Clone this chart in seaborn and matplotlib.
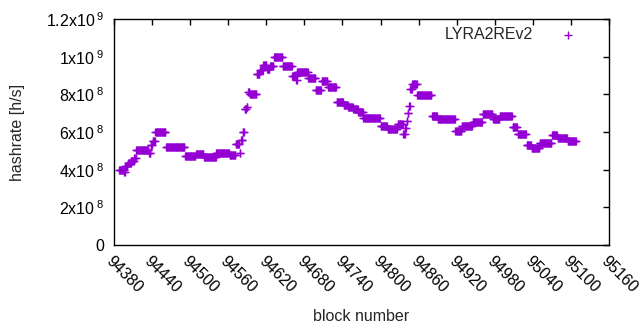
import numpy as np
import pandas as pd
import matplotlib
matplotlib.use('Agg')
import matplotlib.pyplot as plt
import seaborn as sns

# Hashrate plateaus: first block, last block, value (x1e8 h/s)
run_start = [94388, 94396, 94398, 94402, 94407, 94412, 94415, 94435, 94438, 94441,
             94445, 94462, 94492, 94509, 94522, 94541, 94562, 94572, 94578, 94580,
             94583, 94586, 94589, 94591, 94594, 94605, 94610, 94615, 94621, 94626,
             94632, 94646, 94661, 94667, 94669, 94686, 94698, 94707, 94717, 94731,
             94742, 94749, 94757, 94765, 94773, 94800, 94811, 94827, 94836, 94839,
             94841, 94843, 94845, 94847, 94850, 94858, 94881, 94890, 94918, 94928,
             94945, 94961, 94977, 94988, 95008, 95016, 95030, 95038, 95051, 95070,
             95079, 95095]
run_end = [94395, 94397, 94401, 94406, 94411, 94414, 94434, 94437, 94440, 94444,
           94461, 94491, 94508, 94521, 94540, 94561, 94571, 94577, 94579, 94582,
           94585, 94588, 94590, 94593, 94604, 94609, 94614, 94620, 94625, 94631,
           94645, 94660, 94666, 94668, 94685, 94697, 94706, 94716, 94730, 94741,
           94748, 94756, 94764, 94772, 94799, 94810, 94826, 94835, 94838, 94840,
           94842, 94844, 94846, 94849, 94857, 94880, 94889, 94917, 94927, 94944,
           94960, 94976, 94987, 95007, 95015, 95029, 95037, 95050, 95069, 95078,
           95094, 95108]
run_value = [4.0, 3.9, 4.2, 4.35, 4.45, 4.6, 5.05, 4.9, 5.3, 5.5,
             6.0, 5.2, 4.7, 4.85, 4.65, 4.9, 4.8, 5.35, 4.9, 5.6,
             6.0, 7.2, 7.35, 8.15, 8.0, 9.1, 9.3, 9.55, 9.35, 9.5,
             10.0, 9.5, 9.0, 8.75, 9.2, 8.85, 8.25, 8.7, 8.4, 7.6,
             7.45, 7.35, 7.2, 7.05, 6.75, 6.3, 6.15, 6.4, 5.9, 6.2,
             6.6, 7.0, 7.4, 8.3, 8.55, 7.95, 6.85, 6.7, 6.05, 6.3,
             6.55, 6.95, 6.7, 6.85, 6.25, 5.9, 5.3, 5.15, 5.4, 5.85,
             5.7, 5.5]

x_ticks = list(range(94380, 95161, 60))
y_ticks = [0, 2e8, 4e8, 6e8, 8e8, 1e9, 1.2e9]
y_tick_labels = ['0', r'2x10$^{\;8}$', r'4x10$^{\;8}$', r'6x10$^{\;8}$',
                 r'8x10$^{\;8}$', r'1x10$^{\;9}$', r'1.2x10$^{\;9}$']

# one point per block
blocks = np.concatenate([np.arange(s, e + 1) for s, e in zip(run_start, run_end)])
rates = np.concatenate([np.full(e - s + 1, v * 1e8) for s, e, v in zip(run_start, run_end, run_value)])
df = pd.DataFrame({'block': blocks, 'hashrate': rates})

sns.set_theme(style='white')
plt.rcParams['font.family'] = ['Liberation Sans', 'DejaVu Sans']
plt.rcParams['mathtext.fontset'] = 'custom'
plt.rcParams['mathtext.rm'] = 'Liberation Sans'
plt.rcParams['mathtext.it'] = 'Liberation Sans:italic'

fig = plt.figure(figsize=(6.4, 3.3), dpi=100)
ax = fig.add_axes([114 / 640, 85 / 330, 495 / 640, 226 / 330])

sns.scatterplot(data=df, x='block', y='hashrate', marker='+', color='#9400d3',
                s=34, linewidth=1.0, label='LYRA2REv2', ax=ax)

ax.set_xlim(94380, 95160)
ax.set_ylim(0, 1.2e9)
ax.set_xticks(x_ticks)
ax.set_xticklabels([str(t) for t in x_ticks], rotation=-45, ha='left', va='top',
                   rotation_mode='anchor')
ax.set_yticks(y_ticks)
ax.set_yticklabels(y_tick_labels)
ax.tick_params(direction='in', length=4.5, width=1, colors='black',
               labelsize=11.5, top=True, right=True, pad=7)
ax.tick_params(axis='x', pad=6)
for sp in ax.spines.values():
    sp.set_color('black')
    sp.set_linewidth(1)

ax.set_xlabel('block number', fontsize=11.5, labelpad=10)
ax.set_ylabel('hashrate [h/s]', fontsize=11.5, labelpad=15)

ax.legend(loc='upper right', bbox_to_anchor=(0.96, 1.015), frameon=False,
          markerfirst=False, fontsize=11.5, handletextpad=1.6, handlelength=1.2,
          borderaxespad=0.3)

fig.savefig('out.png', dpi=100)
